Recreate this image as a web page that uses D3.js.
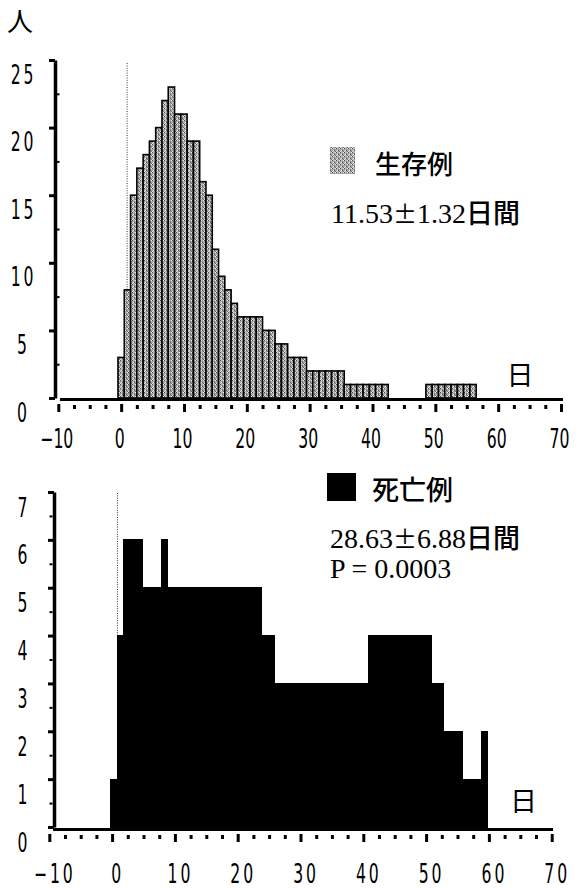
<!DOCTYPE html>
<html><head><meta charset="utf-8">
<script src="https://cdn.jsdelivr.net/npm/d3@7"></script>
<style>body{margin:0;background:#fff}svg{display:block}</style>
</head><body>
<svg id="c" width="579" height="888"></svg>
<script>
// ---------- data ----------
const xTickValues = [-10, 0, 10, 20, 30, 40, 50, 60, 70];
const survivorTicks = [0, 5, 10, 15, 20, 25];
const deathTicks = [0, 1, 2, 3, 4, 5, 6, 7];

const survivorDays = [0,1,2,3,4,5,6,7,8,9,10,11,12,13,14,15,16,17,18,19,20,21,22,23,24,25,26,27,28,29,30,31,32,33,34,35,36,37,38,39,40,41,42,49,50,51,52,53,54,55,56];
const survivorCounts = [3,8,15,17,18,19,20,22,23,21,21,19,19,16,15,11,9,8,7,6,6,6,6,5,5,4,4,3,3,3,2,2,2,2,2,2,1,1,1,1,1,1,1,1,1,1,1,1,1,1,1];

const deathDays = [0,1,2,3,4,5,6,7,8,9,10,11,12,13,14,15,16,17,18,19,20,21,22,23,24,25,26,27,28,29,30,31,32,33,34,35,36,37,38,39,40,41,42,43,44,45,46,47,48,49,50,51,52,53,54,55,56,57,58,59];
const deathCounts = [1,4,6,6,6,5,5,5,6,5,5,5,5,5,5,5,5,5,5,5,5,5,5,5,4,4,3,3,3,3,3,3,3,3,3,3,3,3,3,3,3,4,4,4,4,4,4,4,4,4,4,3,3,2,2,2,1,1,1,2];

const survivorLabel = "生存例";
const survivorMean = "11.53", survivorSd = "1.32";
const deathLabel = "死亡例";
const deathMean = "28.63", deathSd = "6.88";
const pText = "P = 0.0003";

// ---------- drawing ----------
const svg = d3.select("#c");
const defs = svg.append("defs");
const pat = defs.append("pattern").attr("id", "stip")
  .attr("patternUnits", "userSpaceOnUse").attr("width", 4).attr("height", 4);
pat.append("rect").attr("width", 4).attr("height", 4).attr("fill", "#a8a8a8");
[[0,0,"#4a4a4a"],[2,2,"#5a5a5a"],[1,2,"#f0f0f0"],[3,0,"#f0f0f0"],[1,0,"#cfcfcf"],[3,3,"#707070"],[0,3,"#e0e0e0"],[2,1,"#8a8a8a"]]
  .forEach(([x,y,c]) => pat.append("rect").attr("x",x).attr("y",y).attr("width",1).attr("height",1).attr("fill",c));

const numFont = "'DejaVu Sans', sans-serif";
const minorX = d3.range(-10, 70.01, 2.5).filter(v => v % 10 !== 0);

function panel(cfg) {
  const g = svg.append("g");
  const x = d3.scaleLinear().domain([-10, 70]).range(cfg.xRange);
  const y = d3.scaleLinear().domain([0, cfg.yMax]).range(cfg.yRange);

  // dotted reference line
  g.append("line")
    .attr("x1", x(cfg.dotX)).attr("x2", x(cfg.dotX))
    .attr("y1", cfg.dotTop).attr("y2", y(0))
    .attr("stroke", "#333").attr("stroke-width", 1).attr("stroke-dasharray", "1,1.4");

  // bars
  g.append("g").attr("shape-rendering", cfg.crisp ? "crispEdges" : null)
    .selectAll("rect").data(cfg.days.map((d, i) => ({d, c: cfg.counts[i]})))
    .join("rect")
    .attr("x", p => x(p.d - 0.5 + cfg.off))
    .attr("width", p => x(p.d + 0.5 + cfg.off) - x(p.d - 0.5 + cfg.off))
    .attr("y", p => y(p.c))
    .attr("height", p => y(0) - y(p.c))
    .attr("fill", cfg.fill)
    .attr("stroke", "#000")
    .attr("stroke-width", cfg.barStroke);

  // baseline
  g.append("line").attr("x1", cfg.baseX[0]).attr("x2", cfg.baseX[1])
    .attr("y1", cfg.baseY).attr("y2", cfg.baseY)
    .attr("stroke", "#000").attr("stroke-width", 3);

  // x axis ticks + labels
  const xa = g.append("g").attr("transform", `translate(0,${cfg.tickY})`)
    .call(d3.axisBottom(x).tickValues(xTickValues).tickSize(8).tickSizeOuter(0));
  xa.select(".domain").remove();
  xa.selectAll(".tick line").attr("stroke-width", 3);
  xa.selectAll(".tick text")
    .attr("x", 0).attr("y", 0).attr("dy", null)
    .attr("font-family", numFont).attr("font-size", 27)
    .attr("letter-spacing", cfg.xLs)
    .attr("fill", "#000")
    .attr("transform", `translate(${cfg.xLabelDx},${cfg.xLabelBase}) scale(0.58,1)`);
  const xm = g.append("g").attr("transform", `translate(0,${cfg.tickY + 1})`)
    .call(d3.axisBottom(x).tickValues(minorX).tickSize(4).tickFormat(""));
  xm.select(".domain").remove();
  xm.selectAll(".tick line").attr("stroke-width", 3);

  // y axis
  const ya = g.append("g").attr("transform", `translate(${cfg.axisX},0)`)
    .call(d3.axisLeft(y).tickValues(cfg.yTicks).tickSize(6).tickSizeOuter(0).tickFormat(d3.format("d")));
  ya.select(".domain").attr("stroke-width", 3.5);
  ya.selectAll(".tick line").attr("stroke-width", 3);
  ya.selectAll(".tick text")
    .attr("x", 0).attr("y", 0).attr("dy", null)
    .attr("text-anchor", "middle")
    .attr("font-family", numFont).attr("font-size", 27)
    .attr("letter-spacing", 5)
    .attr("fill", "#000")
    .attr("transform", `translate(${cfg.yLabelDx},${cfg.yLabelBase}) scale(0.58,1)`);
  const ym = g.append("g").attr("transform", `translate(${cfg.axisX + cfg.minorYSide},0)`)
    .call((cfg.minorYSide > 0 ? d3.axisRight(y) : d3.axisLeft(y))
      .tickValues(cfg.minorY).tickSize(3).tickFormat(""));
  ym.select(".domain").remove();
  ym.selectAll(".tick line").attr("stroke-width", 2);

  // unit "日"
  g.append("text").attr("x", cfg.dayPos[0]).attr("y", cfg.dayPos[1])
    .attr("text-anchor", "middle").attr("font-family", "'Noto Sans CJK JP'")
    .attr("font-size", 27).text("日");
  return {x, y};
}

panel({
  xRange: [58.3, 561], yMax: 25, yRange: [398, 60],
  days: survivorDays, counts: survivorCounts, off: 0,
  fill: "url(#stip)", barStroke: 1.6, crisp: false,
  dotX: 0.95, dotTop: 63,
  baseX: [60, 563], baseY: 399.5, tickY: 404,
  xLabelDx: -2, xLabelBase: 44, xLs: 0,
  axisX: 55, yTicks: survivorTicks, yLabelDx: -31.5, yLabelBase: 23,
  minorY: [2.5, 7.5, 12.5, 17.5, 22.5], minorYSide: 1.5,
  dayPos: [520, 385]
});

panel({
  xRange: [49.3, 551.7], yMax: 7, yRange: [827, 492],
  days: deathDays, counts: deathCounts, off: 0.3,
  fill: "#000", barStroke: 1, crisp: true,
  dotX: 0.85, dotTop: 493,
  baseX: [53, 553], baseY: 829.5, tickY: 834,
  xLabelDx: 5, xLabelBase: 49, xLs: 5,
  axisX: 54, yTicks: deathTicks, yLabelDx: -30, yLabelBase: 24,
  minorY: [0.5, 1.5, 2.5, 3.5, 4.5, 5.5, 6.5], minorYSide: -1.5,
  dayPos: [523.5, 810.5]
});

// y unit
svg.append("text").attr("x", 20).attr("y", 31).attr("text-anchor", "middle")
  .attr("font-family", "'Noto Sans CJK JP'").attr("font-size", 26).text("人");

function statLine(x, yb, mean, sd) {
  const t = svg.append("text").attr("x", x).attr("y", yb)
    .attr("font-family", "'Liberation Serif', serif").attr("font-size", 28);
  t.append("tspan").text(mean);
  t.append("tspan").attr("font-family", "'Noto Sans CJK JP'").attr("font-size", 24).text("±");
  t.append("tspan").text(sd);
  t.append("tspan").attr("font-family", "'Noto Sans CJK JP'").attr("font-size", 27).attr("font-weight", 500).text("日間");
}

// legends
svg.append("rect").attr("x", 330).attr("y", 147).attr("width", 25).attr("height", 27)
  .attr("fill", "url(#stip)");
svg.append("text").attr("x", 375).attr("y", 174)
  .attr("font-family", "'Noto Sans CJK JP'").attr("font-size", 26).attr("font-weight", 500).text(survivorLabel);
statLine(331, 223, survivorMean, survivorSd);

svg.append("rect").attr("x", 327).attr("y", 473).attr("width", 29).attr("height", 28)
  .attr("fill", "#000");
svg.append("text").attr("x", 372).attr("y", 500)
  .attr("font-family", "'Noto Sans CJK JP'").attr("font-size", 27).attr("font-weight", 500).text(deathLabel);
statLine(330, 548, deathMean, deathSd);
svg.append("text").attr("x", 330).attr("y", 578)
  .attr("font-family", "'Liberation Serif', serif").attr("font-size", 28).text(pText);
</script>
</body></html>
